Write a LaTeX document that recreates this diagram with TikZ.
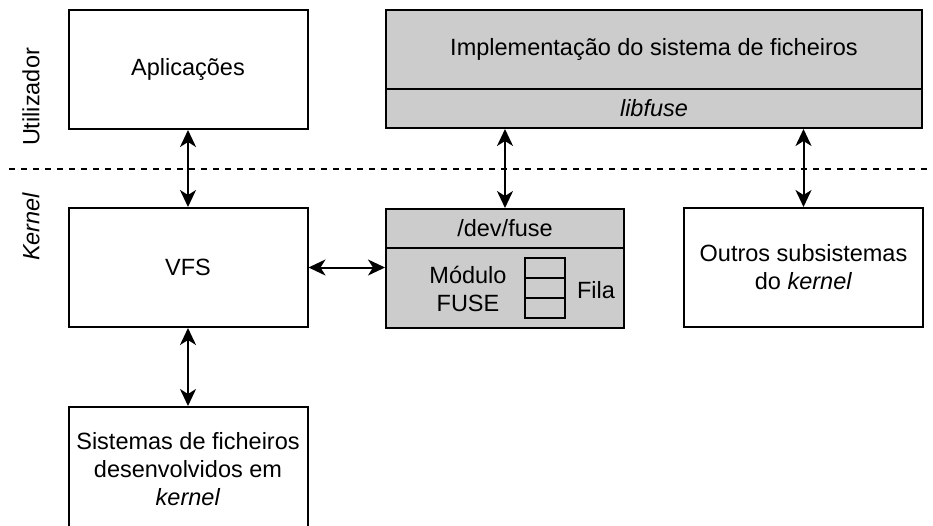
\documentclass[tikz,border=0pt]{standalone}
\usepackage{fontspec}
\setmainfont{Liberation Sans}
\usetikzlibrary{arrows.meta}
\definecolor{boxgray}{HTML}{CCCCCC}
\begin{document}
\begin{tikzpicture}[x=1pt,y=-1pt,
  every node/.style={font=\fontsize{23.5}{28}\selectfont, inner sep=0pt, align=center},
  box/.style={draw=black, line width=2pt, rectangle, minimum width=239pt, minimum height=119pt},
  graybox/.style={draw=black, line width=2pt, rectangle, fill=boxgray},
  cell/.style={draw=black, line width=2pt, rectangle, minimum width=40pt, minimum height=20pt},
  arr/.style={line width=2pt, {Stealth[length=17pt,width=16pt,inset=5pt]}-{Stealth[length=17pt,width=16pt,inset=5pt]}},
  sep/.style={line width=2pt, dash pattern=on 6pt off 6pt}]
\useasboundingbox (0,0) rectangle (933,525);

% user space
\node[box] (apl) at (188,69.5) {Aplica\c{c}\~oes};
\node[graybox, minimum width=536pt, minimum height=79pt] (impl) at (654,49.5) {Implementa\c{c}\~ao do sistema de ficheiros};
\node[graybox, minimum width=536pt, minimum height=39pt] (lib) at (654,108.5) {\itshape libfuse};

% separator
\coordinate (dl) at (9,169);
\coordinate (dr) at (933,169);
\draw[sep] (dl) -- (dr);

% kernel space
\node[box] (vfs) at (188,267.5) {VFS};
\node[graybox, minimum width=238pt, minimum height=39pt] (dev) at (505,228.5) {/dev/fuse};
\node[graybox, minimum width=238pt, minimum height=80pt] (mod) at (505,288) {};
\node (modtxt) at (468,289) {M\'odulo\\FUSE};
\node[cell] (q1) at (545,268) {};
\node[cell] (q2) at (545,288) {};
\node[cell] (q3) at (545,308) {};
\node (fila) at (596,290) {Fila};
\node[box] (out) at (803.5,267.5) {Outros subsistemas\\do \textit{kernel}};
\node[box, minimum height=124pt] (kfs) at (188,469) {Sistemas de ficheiros\\desenvolvidos em\\\textit{kernel}};

% side labels
\node[rotate=90] (lu) at (31,97) {Utilizador};
\node[rotate=90] (lk) at (31,227) {\itshape Kernel};

% connectors
\draw[arr] (apl.south) -- (vfs.north);
\draw[arr] (lib.south -| dev.north) -- (dev.north);
\draw[arr] (lib.south -| out.north) -- (out.north);
\draw[arr] (vfs.east) -- (vfs.east -| mod.west);
\draw[arr] (vfs.south) -- (kfs.north);
\end{tikzpicture}
\end{document}
